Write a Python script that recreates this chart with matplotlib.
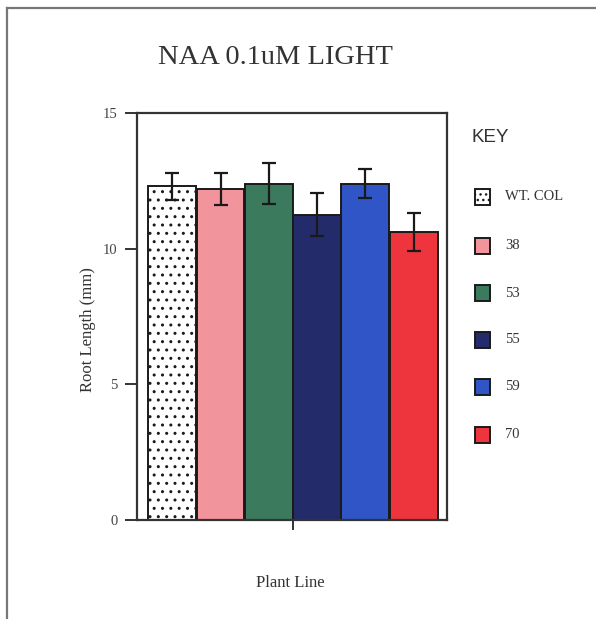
import matplotlib
matplotlib.use("Agg")
import matplotlib.pyplot as plt
from matplotlib.lines import Line2D
from matplotlib.patches import Rectangle

# Data
lines = ["WT. COL", "38", "53", "55", "59", "70"]
root_length = [12.3, 12.2, 12.4, 11.25, 12.4, 10.6]
errors = [0.5, 0.6, 0.75, 0.8, 0.55, 0.7]
colors = ["#ffffff", "#f2949c", "#3b7a5c", "#242b6b", "#2f55c6", "#ee343c"]
y_ticks = [0, 5, 10, 15]

SERIF = "Liberation Serif"
TEXT = "#333333"

fig = plt.figure(figsize=(5.96, 6.19), dpi=100)
fig.patch.set_facecolor("white")

# page frame (left and top edges)
fig.add_artist(Line2D([7 / 596, 7 / 596], [0, 1 - 8 / 619], color="#777777", lw=1.6,
                      transform=fig.transFigure))
fig.add_artist(Line2D([7 / 596, 1], [1 - 8 / 619, 1 - 8 / 619], color="#777777", lw=1.6,
                      transform=fig.transFigure))

ax = fig.add_axes([137 / 596, 1 - 520 / 619, 310 / 596, 407 / 619])

x = list(range(len(lines)))
bars = ax.bar(x, root_length, width=0.99, color=colors, edgecolor="#1a1a1a", linewidth=1.4,
              zorder=2)
bars[0].set_hatch("..")
ax.errorbar(x, root_length, yerr=errors, fmt="none", ecolor="#1a1a1a", elinewidth=1.6,
            capsize=5, capthick=1.6, zorder=3)

ax.set_xlim(-0.73, 5.69)
ax.set_ylim(0, 15)
ax.set_yticks(y_ticks)
ax.set_yticklabels([str(t) for t in y_ticks], fontfamily=SERIF, fontsize=10.5, color="#444444")
ax.set_xticks([2.5])
ax.set_xticklabels([""])
ax.tick_params(axis="y", direction="out", length=9, width=1.4, color="#333333", pad=5)
ax.tick_params(axis="x", direction="out", length=7, width=1.4, color="#333333")
for spine in ax.spines.values():
    spine.set_linewidth(1.6)
    spine.set_color("#333333")

fig.text(88 / 596, 1 - 330 / 619, "Root Length (mm)", fontfamily=SERIF, fontsize=12,
         color=TEXT, ha="center", va="center", rotation=90)

fig.text(275 / 596, 1 - 58 / 619, "NAA 0.1uM LIGHT", fontfamily=SERIF, fontsize=20.5,
         color=TEXT, ha="center", va="center")
fig.text(290 / 596, 1 - 583 / 619, "Plant Line", fontfamily=SERIF, fontsize=12,
         color=TEXT, ha="center", va="center")

# key
fig.text(471 / 596, 1 - 138 / 619, "KEY", fontfamily="Liberation Sans", fontsize=13.5,
         color=TEXT, ha="left", va="center")
key_y = [197, 246, 293, 340, 387, 435]
for lab, col, yy, i in zip(lines, colors, key_y, range(len(lines))):
    sq = Rectangle((475 / 596, 1 - (yy + 8) / 619), 15 / 596, 16 / 619, transform=fig.transFigure,
                   facecolor=col, edgecolor="#1a1a1a", linewidth=1.4,
                   hatch="..." if i == 0 else None)
    fig.add_artist(sq)
    fig.text(505 / 596, 1 - yy / 619, lab, fontfamily=SERIF, fontsize=10.5, color=TEXT,
             ha="left", va="center")

fig.savefig("out.png", dpi=100)
